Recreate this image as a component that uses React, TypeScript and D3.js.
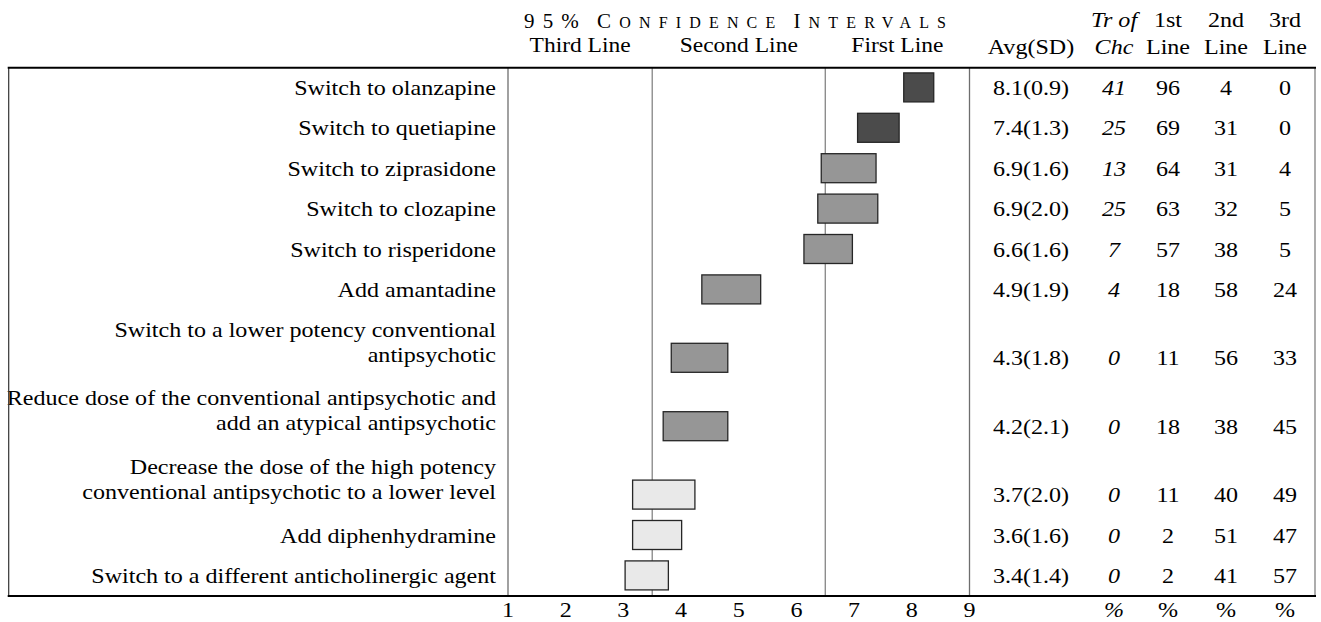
import React from "react";
import * as d3 from "d3";

const labels: string[][] = [
  ["Switch to olanzapine"],
  ["Switch to quetiapine"],
  ["Switch to ziprasidone"],
  ["Switch to clozapine"],
  ["Switch to risperidone"],
  ["Add amantadine"],
  ["Switch to a lower potency conventional", "antipsychotic"],
  ["Reduce dose of the conventional antipsychotic and", "add an atypical antipsychotic"],
  ["Decrease the dose of the high potency", "conventional antipsychotic to a lower level"],
  ["Add diphenhydramine"],
  ["Switch to a different anticholinergic agent"],
];
const avg = [8.1, 7.4, 6.9, 6.9, 6.6, 4.9, 4.3, 4.2, 3.7, 3.6, 3.4];
const sd = [0.9, 1.3, 1.6, 2.0, 1.6, 1.9, 1.8, 2.1, 2.0, 1.6, 1.4];
const ciLow = [7.86, 7.06, 6.43, 6.37, 6.13, 4.36, 3.83, 3.69, 3.16, 3.16, 3.03];
const ciHigh = [8.38, 7.78, 7.38, 7.41, 6.97, 5.38, 4.81, 4.81, 4.24, 4.01, 3.78];
const tier = ["first", "first", "second", "second", "second", "second", "second", "second", "third", "third", "third"];
const trOfChc = [41, 25, 13, 25, 7, 4, 0, 0, 0, 0, 0];
const firstLine = [96, 69, 64, 63, 57, 18, 11, 18, 11, 2, 2];
const secondLine = [4, 31, 31, 32, 38, 58, 56, 38, 40, 51, 41];
const thirdLine = [0, 0, 4, 5, 5, 24, 33, 45, 49, 47, 57];
const xTicks = [1, 2, 3, 4, 5, 6, 7, 8, 9];
const tierBounds = [1, 3.5, 6.5, 9];
const tierNames = ["Third Line", "Second Line", "First Line"];

const FONT = '"Liberation Serif", "Times New Roman", Times, serif';
const SX = 1.12;
const FS = 21.5;

const tierFill: Record<string, string> = { first: "#4b4b4b", second: "#969696", third: "#e9e9e9" };

function T(props: { x: number; y: number; anchor?: string; italic?: boolean; size?: number; children: React.ReactNode }) {
  const { x, y, anchor = "middle", italic = false, size = FS, children } = props;
  return (
    <text
      transform={`translate(${x},${y}) scale(${SX},1)`}
      textAnchor={anchor}
      fontFamily={FONT}
      fontSize={size}
      fontStyle={italic ? "italic" : "normal"}
      fill="#000"
    >
      {children}
    </text>
  );
}

export default function App() {
  const W = 1321;
  const H = 622;
  const x = d3.scaleLinear().domain([1, 9]).range([508, 969.5]);
  const top = 67.7;
  const heights = labels.map((l) => (l.length > 1 ? 68.4 : 40.4));
  const bottoms = Array.from(d3.cumsum(heights)).map((v) => top + v);
  const centers = bottoms.map((b) => b - 20.7);
  const bottom = bottoms[bottoms.length - 1];
  const barH = 29;
  const left = 8.7;
  const right = 1315;
  const colAvg = 1031;
  const colTr = 1114;
  const col1 = 1168;
  const col2 = 1226;
  const col3 = 1285;

  return (
    <svg width={W} height={H} style={{ position: "absolute", left: 0, top: 0, background: "#fff" }}>
      <rect x={0} y={0} width={W} height={H} fill="#fff" />
      {/* header */}
      <text x={524} y={27.5} textLength={422} lengthAdjust="spacing" fontFamily={FONT} fill="#000">
        <tspan fontSize={21}>95%</tspan>
        <tspan fontSize={21} dx={10}>C</tspan>
        <tspan fontSize={16}>ONFIDENCE</tspan>
        <tspan fontSize={21} dx={10}>I</tspan>
        <tspan fontSize={16}>NTERVALS</tspan>
      </text>
      {tierNames.map((n, i) => (
        <T key={n} x={x((tierBounds[i] + tierBounds[i + 1]) / 2)} y={52} size={21}>
          {n}
        </T>
      ))}
      <T x={colAvg} y={54}>Avg(SD)</T>
      <T x={colTr} y={27} italic>Tr of</T>
      <T x={colTr} y={54} italic>Chc</T>
      <T x={col1} y={27}>1st</T>
      <T x={col2} y={27}>2nd</T>
      <T x={col3} y={27}>3rd</T>
      <T x={col1} y={54}>Line</T>
      <T x={col2} y={54}>Line</T>
      <T x={col3} y={54}>Line</T>

      {/* grid lines */}
      {tierBounds.map((b, i) => (
        <line key={b} x1={x(b)} x2={x(b)} y1={top} y2={bottom} stroke={i === 0 || i === 3 ? "#6e6e6e" : "#858585"} strokeWidth={1.3} />
      ))}

      {/* bars */}
      {ciLow.map((lo, i) => (
        <rect
          key={i}
          x={x(lo)}
          y={centers[i] - barH / 2}
          width={x(ciHigh[i]) - x(lo)}
          height={barH}
          fill={tierFill[tier[i]]}
          stroke="#262626"
          strokeWidth={1.3}
        />
      ))}

      {/* labels */}
      {labels.map((l, i) => {
        if (l.length === 1) {
          return (
            <T key={i} x={496} y={centers[i] + 7.5} anchor="end">
              {l[0]}
            </T>
          );
        }
        return (
          <g key={i}>
            <T x={496} y={centers[i] - 21} anchor="end">{l[0]}</T>
            <T x={496} y={centers[i] + 4} anchor="end">{l[1]}</T>
          </g>
        );
      })}

      {/* values */}
      {avg.map((a, i) => {
        const y = centers[i] + 7.5;
        return (
          <g key={i}>
            <T x={colAvg} y={y}>{`${a.toFixed(1)}(${sd[i].toFixed(1)})`}</T>
            <T x={colTr} y={y} italic>{String(trOfChc[i])}</T>
            <T x={col1} y={y}>{String(firstLine[i])}</T>
            <T x={col2} y={y}>{String(secondLine[i])}</T>
            <T x={col3} y={y}>{String(thirdLine[i])}</T>
          </g>
        );
      })}

      {/* frame */}
      <line x1={left} x2={left} y1={top} y2={bottom} stroke="#333" strokeWidth={1.2} />
      <line x1={right} x2={right} y1={top} y2={bottom} stroke="#808080" strokeWidth={1.3} />
      <line x1={left - 1} x2={right + 1} y1={top} y2={top} stroke="#000" strokeWidth={2} />
      <line x1={left - 1} x2={right + 1} y1={bottom} y2={bottom} stroke="#000" strokeWidth={2} />

      {/* axis ticks */}
      {xTicks.map((t) => (
        <T key={t} x={x(t)} y={617}>{String(t)}</T>
      ))}
      <T x={colTr} y={617} italic>%</T>
      <T x={col1} y={617}>%</T>
      <T x={col2} y={617}>%</T>
      <T x={col3} y={617}>%</T>
    </svg>
  );
}
